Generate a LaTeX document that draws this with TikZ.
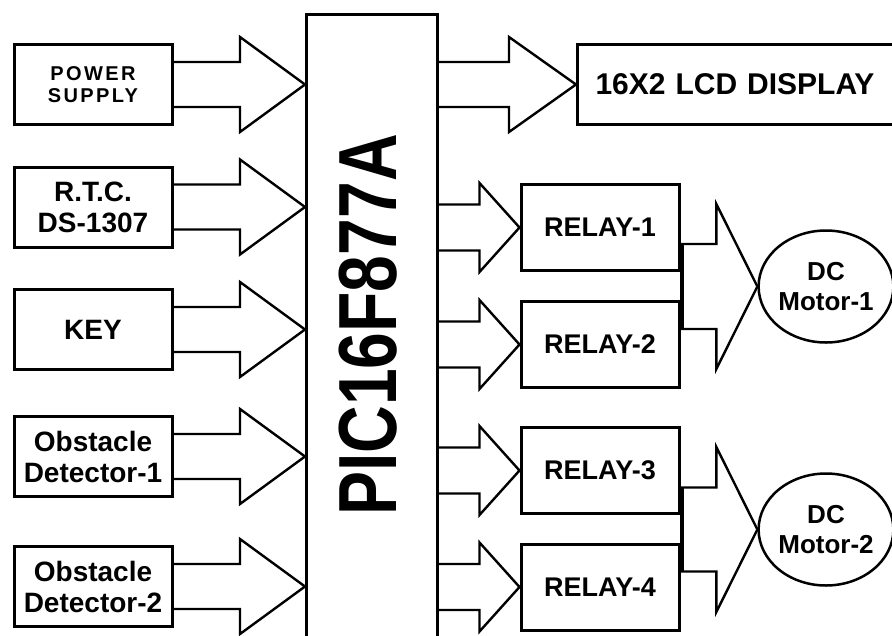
\documentclass[tikz,border=0pt]{standalone}
\usepackage{graphicx}
\usepackage{fontspec}
\setmainfont{Liberation Sans}
\usetikzlibrary{calc,shapes.geometric}

% hollow block arrow: #1 start, #2 tip, #3 half shaft, #4 half head, #5 head length
\newcommand{\fatarrow}[5]{%
  \draw[fat] let \p1=#1, \p2=#2 in
    (\x1,\y2+#3) -- (\x2-#5,\y2+#3) -- (\x2-#5,\y2+#4) -- (\x2,\y2)
    -- (\x2-#5,\y2-#4) -- (\x2-#5,\y2-#3) -- (\x1,\y2-#3);}

\begin{document}
\begin{tikzpicture}[x=1pt, y=-1pt,
    box/.style={draw, line width=3pt, inner sep=0pt, align=center,
      font=\bfseries\fontsize{28}{31}\selectfont},
    inbox/.style={box, minimum width=158pt, minimum height=80pt},
    relaybox/.style={box, minimum width=158pt, minimum height=86pt,
      font=\bfseries\fontsize{27}{30}\selectfont},
    motor/.style={draw, ellipse, line width=2.5pt, inner sep=0pt,
      minimum width=126pt, minimum height=112pt, align=center,
      font=\bfseries\fontsize{26}{30}\selectfont},
    fat/.style={line width=2.4pt, line join=miter}]
  \useasboundingbox (0,0) rectangle (892,635);
  \clip (0,0) rectangle (892,635);

  % controller
  \node[box, minimum width=131pt, minimum height=646pt] (pic) at (372,337) {};
  \node[rotate=90, font=\bfseries\fontsize{66}{66}\selectfont] (pictext) at (368,325)
    {\scalebox{1}[1.25]{PIC16F877A}};

  % inputs
  \node[inbox, font={\bfseries\fontsize{20}{22}\selectfont\addfontfeature{LetterSpace=12}}]
    (ps) at (93,84.5) {POWER\\SUPPLY};
  \node[inbox] (rtc) at (93,207) {R.T.C.\\DS-1307};
  \node[inbox] (key) at (93,329.5) {KEY};
  \node[inbox] (od1) at (93,456.5) {Obstacle\\Detector-1};
  \node[inbox] (od2) at (93,586.5) {Obstacle\\Detector-2};

  % outputs
  \node[box, anchor=west, minimum height=80pt, text width=300pt, align=left,
    inner xsep=18pt, font=\bfseries\fontsize{30}{32}\selectfont]
    (lcd) at (576,84.5) {16X2 LCD DISPLAY};
  \node[relaybox] (r1) at (600,227.5) {RELAY-1};
  \node[relaybox] (r2) at (600,344.5) {RELAY-2};
  \node[relaybox] (r3) at (600,470.5) {RELAY-3};
  \node[relaybox] (r4) at (600,587) {RELAY-4};

  % motors
  \node[motor] (m1) at (826,286.5) {DC\\Motor-1};
  \node[motor] (m2) at (826,529.5) {DC\\Motor-2};

  % arrows into the controller
  \foreach \blk in {ps,rtc,key,od1,od2}
    \fatarrow{(\blk.east)}{(\blk.east -| pic.west)}{22.5pt}{47.5pt}{65pt};

  % arrows out of the controller
  \fatarrow{(lcd.west -| pic.east)}{(lcd.west)}{22.5pt}{47.5pt}{67pt};
  \foreach \blk in {r1,r2,r3,r4}
    \fatarrow{(\blk.west -| pic.east)}{(\blk.west)}{23pt}{44.5pt}{40pt};

  % relay pairs to motors
  \fatarrow{(m1.west -| r1.east)}{(m1.west)}{42.5pt}{82.5pt}{41pt};
  \fatarrow{(m2.west -| r3.east)}{(m2.west)}{42pt}{82.5pt}{41pt};
  \draw[line width=4pt] let \p1=(r1.east), \p2=(m1.west) in
    (\x1+1pt,\y2-43pt) -- (\x1+1pt,\y2+43pt);
  \draw[line width=4pt] let \p1=(r3.east), \p2=(m2.west) in
    (\x1+1pt,\y2-42.5pt) -- (\x1+1pt,\y2+42.5pt);
\end{tikzpicture}
\end{document}
